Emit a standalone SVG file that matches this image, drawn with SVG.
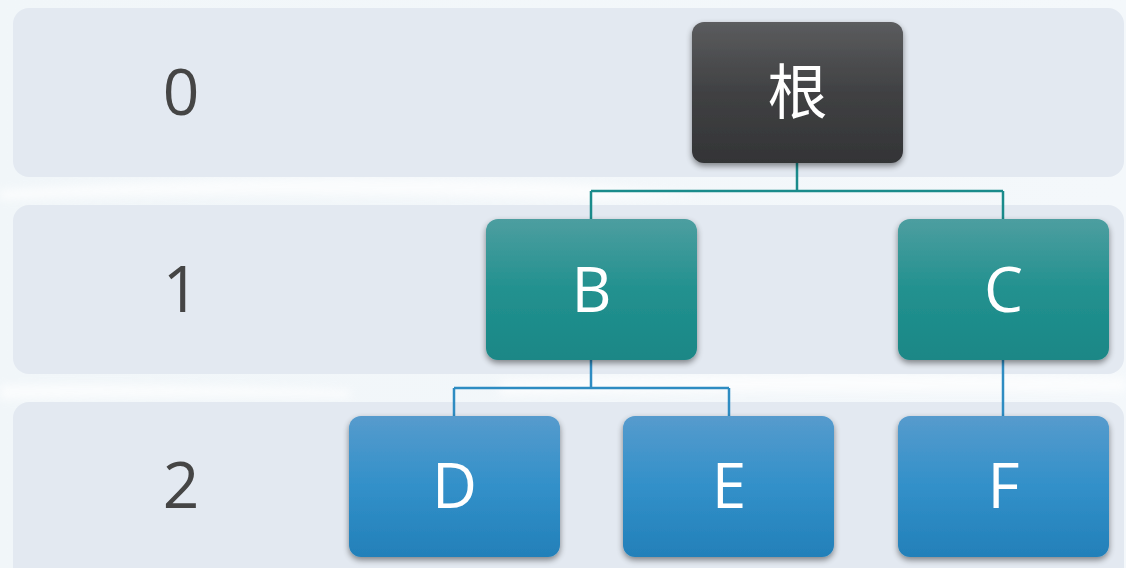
<svg xmlns="http://www.w3.org/2000/svg" width="1126" height="568" viewBox="0 0 1126 568">
  <defs>
    <linearGradient id="gDark" x1="0" y1="0" x2="0" y2="1">
      <stop offset="0" stop-color="#5b5c5e"/>
      <stop offset="0.5" stop-color="#404143"/>
      <stop offset="1" stop-color="#333436"/>
    </linearGradient>
    <linearGradient id="gTeal" x1="0" y1="0" x2="0" y2="1">
      <stop offset="0" stop-color="#4d9ea0"/>
      <stop offset="0.5" stop-color="#22918f"/>
      <stop offset="1" stop-color="#1a8786"/>
    </linearGradient>
    <linearGradient id="gBlue" x1="0" y1="0" x2="0" y2="1">
      <stop offset="0" stop-color="#569bcd"/>
      <stop offset="0.5" stop-color="#3290c9"/>
      <stop offset="1" stop-color="#2380b9"/>
    </linearGradient>
    <linearGradient id="gBg" x1="0" y1="0" x2="1" y2="0">
      <stop offset="0" stop-color="#f1f6f9"/>
      <stop offset="1" stop-color="#f4f8fb"/>
    </linearGradient>
    <filter id="shadow" x="-10%" y="-10%" width="120%" height="130%">
      <feGaussianBlur in="SourceAlpha" stdDeviation="3"/>
      <feOffset dx="0" dy="3" result="b"/>
      <feComponentTransfer><feFuncA type="linear" slope="0.45"/></feComponentTransfer>
      <feMerge><feMergeNode/><feMergeNode in="SourceGraphic"/></feMerge>
    </filter>
    <filter id="soft"><feGaussianBlur stdDeviation="4"/></filter>
    <style>
      .band { fill: #e3e9f1; }
      .lvl { font-family: "Open Sans", "Noto Sans", sans-serif; font-size: 64px; fill: #454545; text-anchor: middle; }
      .lbl { font-family: "Open Sans", "Noto Sans", "Noto Sans CJK SC", sans-serif; font-size: 62px; fill: #ffffff; text-anchor: middle; }
      .cjk { font-family: "Noto Sans CJK SC", "Noto Sans CJK JP", sans-serif; font-size: 60px; fill: #ffffff; text-anchor: middle; }
      .tealLine { fill: none; stroke: #1a8b8b; stroke-width: 2.5; }
      .blueLine { fill: none; stroke: #2e8cc2; stroke-width: 2.5; }
    </style>
  </defs>

  <rect x="0" y="0" width="1126" height="568" fill="url(#gBg)"/>
  <g opacity="0.7" filter="url(#soft)">
    <path d="M0 190 Q300 170 600 185 L700 195 L600 200 Q300 190 0 200 Z" fill="#ffffff"/>
    <path d="M500 380 Q800 370 1126 378 L1126 392 Q800 390 500 395 Z" fill="#ffffff"/>
    <path d="M0 385 Q150 382 350 390 L350 398 Q150 396 0 400 Z" fill="#ffffff"/>
  </g>

  <g id="bands">
    <rect class="band" x="13" y="8" width="1111" height="169" rx="16"/>
    <rect class="band" x="13" y="205" width="1111" height="169" rx="16"/>
    <rect class="band" x="13" y="402" width="1111" height="190" rx="16"/>
  </g>

  <g id="levels">
    <text class="lvl" x="181" y="115">0</text>
    <text class="lvl" x="181" y="312">1</text>
    <text class="lvl" x="181" y="508">2</text>
  </g>

  <g id="connectors">
    <path class="tealLine" d="M797 163 V191 M591 191 H1003 M591 191 V219 M1003 191 V219"/>
    <path class="blueLine" d="M591 360 V388 M454 388 H729 M454 388 V416 M729 388 V416"/>
    <path class="blueLine" d="M1003 360 V416"/>
  </g>

  <g id="node-root" filter="url(#shadow)">
    <rect x="692" y="22" width="211" height="141" rx="12" fill="url(#gDark)"/>
    <text class="cjk" x="797.5" y="114">根</text>
  </g>
  <g id="node-B" filter="url(#shadow)">
    <rect x="486" y="219" width="211" height="141" rx="12" fill="url(#gTeal)"/>
    <text class="lbl" x="591.5" y="312">B</text>
  </g>
  <g id="node-C" filter="url(#shadow)">
    <rect x="898" y="219" width="211" height="141" rx="12" fill="url(#gTeal)"/>
    <text class="lbl" x="1003.5" y="312">C</text>
  </g>
  <g id="node-D" filter="url(#shadow)">
    <rect x="349" y="416" width="211" height="141" rx="12" fill="url(#gBlue)"/>
    <text class="lbl" x="454.5" y="508">D</text>
  </g>
  <g id="node-E" filter="url(#shadow)">
    <rect x="623" y="416" width="211" height="141" rx="12" fill="url(#gBlue)"/>
    <text class="lbl" x="729" y="508">E</text>
  </g>
  <g id="node-F" filter="url(#shadow)">
    <rect x="898" y="416" width="211" height="141" rx="12" fill="url(#gBlue)"/>
    <text class="lbl" x="1003.5" y="508">F</text>
  </g>
</svg>
